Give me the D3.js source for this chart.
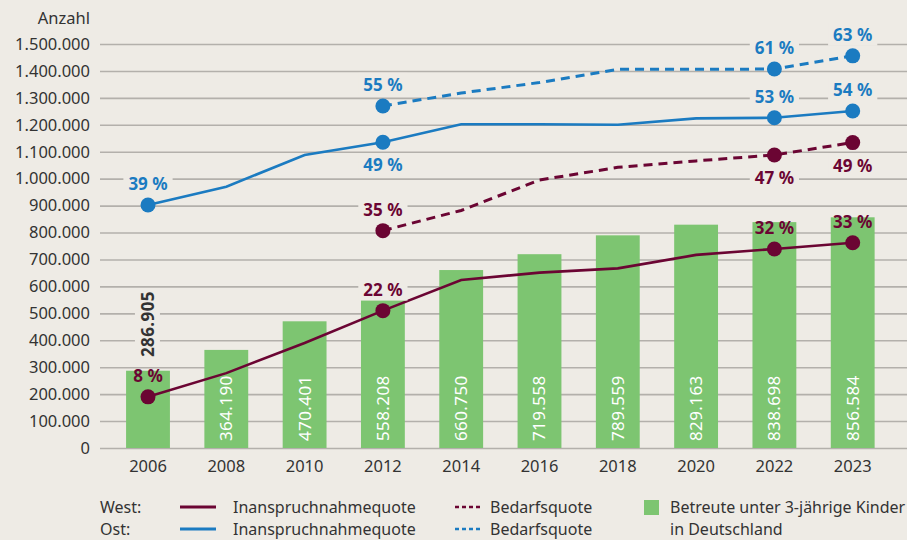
<!DOCTYPE html>
<html>
<head>
<meta charset="utf-8">
<script src="https://cdn.jsdelivr.net/npm/d3@7"></script>
<style>
  body { margin: 0; background: #eeebe5; }
  svg { display: block; font-family: "Noto Sans", sans-serif; }
</style>
</head>
<body>
<div id="chart"></div>
<script>
// data
const years = ["2006", "2008", "2010", "2012", "2014", "2016", "2018", "2020", "2022", "2023"];
const kinder = [286905, 364190, 470401, 558208, 660750, 719558, 789559, 829163, 838698, 856584];
const westInanspruch = [190000, 278000, 390000, 510000, 624000, 651000, 667000, 717000, 739000, 762000];
const westBedarf = [null, null, null, 807000, 882000, 995000, 1042000, 1066000, 1088000, 1134000];
const ostInanspruch = [902000, 970000, 1088000, 1135000, 1202000, 1202000, 1200000, 1224000, 1226000, 1251000];
const ostBedarf = [null, null, null, 1270000, 1318000, 1357000, 1406000, 1406000, 1407000, 1456000];

// quota labels (null = no marker)
const westInanspruchPct = ["8 %", null, null, "22 %", null, null, null, null, "32 %", "33 %"];
const westBedarfPct = [null, null, null, "35 %", null, null, null, null, "47 %", "49 %"];
const ostInanspruchPct = ["39 %", null, null, "49 %", null, null, null, null, "53 %", "54 %"];
const ostBedarfPct = [null, null, null, "55 %", null, null, null, null, "61 %", "63 %"];

const yTicks = d3.range(0, 1500001, 100000);

const width = 907, height = 540;
const bg = "#eeebe5";
const red = "#6b0533", blue = "#1b7bc1", green = "#7dc571", text = "#333";

const de = d3.formatLocale({ decimal: ",", thousands: ".", grouping: [3], currency: ["", " €"] });
const fmt = de.format(",d");

const svg = d3.select("#chart").append("svg")
  .attr("width", width).attr("height", height);

const x = d3.scaleBand()
  .domain(years)
  .range([108.85, 891.85])
  .paddingInner(0.44)
  .paddingOuter(0.22);
const cx = d => x(d) + x.bandwidth() / 2;

const y = d3.scaleLinear()
  .domain([0, 1500000])
  .range([448, 44]);

// y axis + grid
const yAxis = svg.append("g")
  .attr("transform", "translate(100,0)")
  .call(d3.axisLeft(y).tickValues(yTicks).tickFormat(fmt).tickSize(-(width - 100)).tickPadding(10));
yAxis.select(".domain").remove();
yAxis.selectAll("line").attr("stroke", "#b3b0ab").attr("stroke-width", 1.6);
yAxis.selectAll("text").attr("fill", text).style("font-size", "16.5px").style("font-family", "Noto Sans");

svg.append("text")
  .attr("x", 90).attr("y", 18).attr("dy", "0.35em")
  .attr("text-anchor", "end").attr("fill", text)
  .style("font-size", "16.5px")
  .text("Anzahl");

// x axis
const xAxis = svg.append("g")
  .attr("transform", "translate(0,448)")
  .call(d3.axisBottom(x).tickSize(0).tickPadding(12));
xAxis.select(".domain").remove();
xAxis.selectAll("text").attr("fill", text).style("font-size", "16.5px").style("font-family", "Noto Sans");

// bars
svg.append("g").selectAll("rect")
  .data(years)
  .join("rect")
  .attr("x", d => x(d))
  .attr("width", x.bandwidth())
  .attr("y", (d, i) => y(kinder[i]))
  .attr("height", (d, i) => y(0) - y(kinder[i]))
  .attr("fill", green);

// bar value labels (first one sits above the bar)
const outside = new Set(["2006"]);
const barLabels = svg.append("g");
years.forEach((yr, i) => {
  const out = outside.has(yr);
  const ty = out ? 357 : 441;
  const t = barLabels.append("text")
    .attr("transform", `translate(${cx(yr)},${ty}) rotate(-90)`)
    .attr("dy", "0.35em")
    .attr("text-anchor", "start")
    .attr("fill", out ? text : "#fff")
    .style("font-size", "17px")
    .style("letter-spacing", "0.4px")
    .style("font-weight", out ? 700 : 400)
    .text(fmt(kinder[i]));
  if (out) {
    const b = t.node().getBBox();
    barLabels.insert("rect", "text")
      .attr("transform", `translate(${cx(yr)},${ty}) rotate(-90)`)
      .attr("x", b.x - 2).attr("y", b.y - 1)
      .attr("width", b.width + 4).attr("height", b.height + 2)
      .attr("fill", bg);
  }
});

// lines
const series = [
  { key: "ostB", values: ostBedarf, pct: ostBedarfPct, color: blue, dash: "9,6" },
  { key: "ostI", values: ostInanspruch, pct: ostInanspruchPct, color: blue, dash: null },
  { key: "westB", values: westBedarf, pct: westBedarfPct, color: red, dash: "9,6" },
  { key: "westI", values: westInanspruch, pct: westInanspruchPct, color: red, dash: null }
];

const line = d3.line()
  .defined(d => d.v != null)
  .x(d => cx(d.year))
  .y(d => y(d.v));

// labels placed under the marker
const below = new Set(["ostI-2012", "westB-2022", "westB-2023"]);
// labels over a bar get no background box
const onBar = new Set(["westI-2006", "westI-2022", "westI-2023"]);

const lineG = svg.append("g");
const labelG = svg.append("g");

series.forEach(s => {
  const pts = years.map((yr, i) => ({ year: yr, v: s.values[i], pct: s.pct[i] }));
  lineG.append("path")
    .datum(pts)
    .attr("d", line)
    .attr("fill", "none")
    .attr("stroke", s.color)
    .attr("stroke-width", s.dash ? 3 : 2.6)
    .attr("stroke-dasharray", s.dash);

  pts.filter(p => p.pct).forEach(p => {
    lineG.append("circle")
      .attr("cx", cx(p.year)).attr("cy", y(p.v))
      .attr("r", 7.5).attr("fill", s.color);

    const k = s.key + "-" + p.year;
    const ly = y(p.v) + (below.has(k) ? 23 : -21);
    const g = labelG.append("g");
    const t = g.append("text")
      .attr("x", cx(p.year)).attr("y", ly).attr("dy", "0.35em")
      .attr("text-anchor", "middle")
      .attr("fill", s.color)
      .style("font-size", "17px")
      .style("font-weight", 700)
      .text(p.pct);
    if (!onBar.has(k)) {
      const b = t.node().getBBox();
      g.insert("rect", "text")
        .attr("x", b.x - 5).attr("y", b.y)
        .attr("width", b.width + 10).attr("height", b.height)
        .attr("fill", bg);
    }
  });
});

// legend
const leg = svg.append("g").style("font-size", "16px").attr("fill", text);
const rows = [
  { name: "West:", color: red, y: 507 },
  { name: "Ost:", color: blue, y: 529 }
];
rows.forEach(r => {
  leg.append("text").attr("x", 100).attr("y", r.y).attr("dy", "0.35em").attr("fill", text).text(r.name);
  leg.append("line").attr("x1", 180).attr("x2", 216).attr("y1", r.y).attr("y2", r.y)
    .attr("stroke", r.color).attr("stroke-width", 2.8);
  leg.append("text").attr("x", 233).attr("y", r.y).attr("dy", "0.35em").attr("fill", text).text("Inanspruchnahmequote");
  leg.append("line").attr("x1", 455).attr("x2", 481).attr("y1", r.y).attr("y2", r.y)
    .attr("stroke", r.color).attr("stroke-width", 2.6).attr("stroke-dasharray", "4,3");
  leg.append("text").attr("x", 490).attr("y", r.y).attr("dy", "0.35em").attr("fill", text).text("Bedarfsquote");
});
leg.append("rect").attr("x", 644).attr("y", 500).attr("width", 15).attr("height", 15).attr("fill", green);
leg.append("text").attr("x", 670).attr("y", 507).attr("dy", "0.35em").attr("fill", text).text("Betreute unter 3-jährige Kinder");
leg.append("text").attr("x", 670).attr("y", 529).attr("dy", "0.35em").attr("fill", text).text("in Deutschland");
</script>
</body>
</html>
